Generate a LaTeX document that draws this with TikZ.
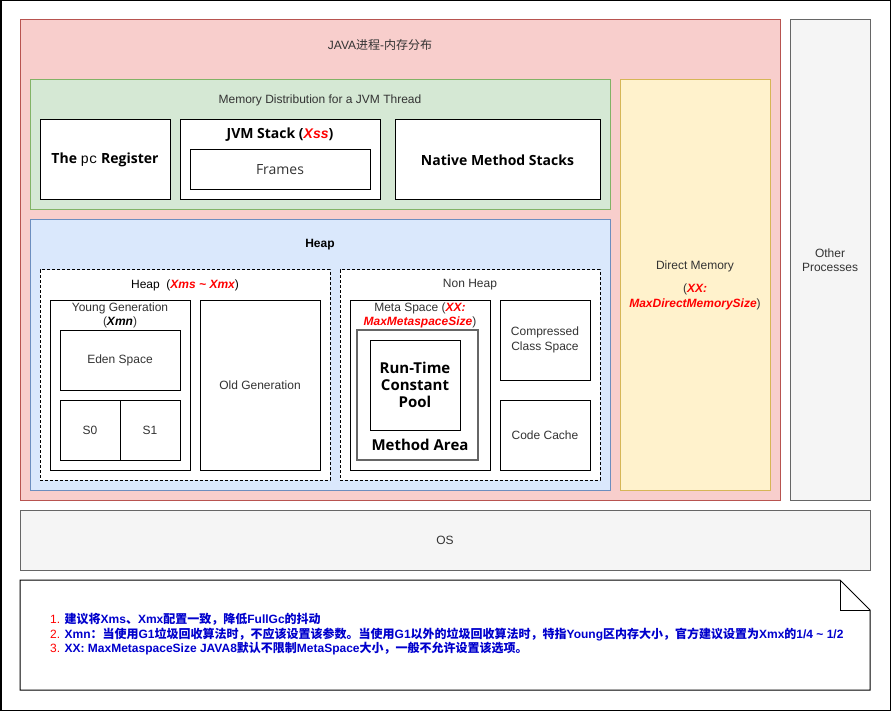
\documentclass[tikz,border=0pt]{standalone}
\usepackage{fontspec}
\setmainfont{Liberation Sans}
\setmonofont{Liberation Mono}
\newfontfamily\cjk{Noto Sans CJK SC}
\newfontfamily\segoe{Open Sans}
\usetikzlibrary{positioning}

\definecolor{procFill}{HTML}{F8CECC}
\definecolor{procLine}{HTML}{B85450}
\definecolor{thrFill}{HTML}{D5E8D4}
\definecolor{thrLine}{HTML}{82B366}
\definecolor{heapFill}{HTML}{DAE8FC}
\definecolor{heapLine}{HTML}{6C8EBF}
\definecolor{directFill}{HTML}{FFF2CC}
\definecolor{directLine}{HTML}{D6B656}
\definecolor{osFill}{HTML}{F5F5F5}
\definecolor{osLine}{HTML}{666666}
\definecolor{labelGrey}{HTML}{333333}
\definecolor{keyRed}{HTML}{FF0000}
\definecolor{noteBlue}{HTML}{0000CC}

\newcommand{\zh}[1]{{\cjk #1}}
\newcommand{\keyit}[1]{\textcolor{keyRed}{\bfseries\itshape #1}}

\begin{document}
\begin{tikzpicture}[x=1pt,y=-1pt,
  area/.style={draw, rectangle, inner sep=0pt, outer sep=0pt, line width=1pt},
  cell/.style={area, draw=black, fill=white},
  dotbox/.style={area, draw=black, fill=white, dash pattern=on 3pt off 2pt},
  lbl/.style={inner sep=0pt, align=center, text=labelGrey, font=\fontsize{12}{14.5}\selectfont},
  heavy/.style={inner sep=0pt, align=center, text=black, font=\segoe\bfseries\fontsize{14}{17}\selectfont},
  sz/.style 2 args={minimum width=#1, minimum height=#2}]
  \useasboundingbox (0,0) rectangle (891,711);
  \draw[line width=1.5pt] (0.75,0.75) rectangle (890.25,710.25);

  % java process
  \node[area, sz={760}{480}, fill=procFill, draw=procLine] (proc) at (400,260) {};
  \node[lbl] (procT) at (380,45) {JAVA\zh{进程}-\zh{内存分布}};

  % thread
  \node[area, sz={580}{130}, fill=thrFill, draw=thrLine] (thread) at (320,145) {};
  \node[lbl] (threadT) at (320,100) {Memory Distribution for a JVM Thread};
  \node[cell, sz={130}{80}, heavy] (pcreg) at (105,160) {The {\mdseries\ttfamily pc} Register};
  \node[cell, sz={200}{80}] (stack) at (280,160) {};
  \node[heavy] (stackT) at (280,135) {JVM Stack ({\fontspec{Liberation Sans}\keyit{Xss}})};
  \node[cell, sz={180}{40}, heavy, font=\segoe\fontsize{14}{17}\selectfont, text=labelGrey] (frames) at (280,170) {Frames};
  \node[cell, sz={205}{80}, heavy] (native) at (497.5,160) {Native Method Stacks};

  % heap
  \node[area, sz={580}{270}, fill=heapFill, draw=heapLine] (heap) at (320,355) {};
  \node[lbl, font=\bfseries\fontsize{12}{14.5}\selectfont, text=black] (heapT) at (320,245) {Heap};

  \node[dotbox, sz={290}{210}] (xheap) at (185,375) {};
  \node[lbl, text=black] (xheapT) at (185,285) {Heap\ \ (\keyit{Xms \textasciitilde{} Xmx})};
  \node[cell, sz={140}{170}] (young) at (120,385) {};
  \node[lbl] (youngT) at (120,315.5) {Young Generation\\(\textcolor{black}{\bfseries\itshape Xmn})};
  \node[cell, sz={120}{60}, lbl] (eden) at (120,360) {Eden Space};
  \node[cell, sz={60}{60}, lbl] (s0) at (90,430) {S0};
  \node[cell, sz={60}{60}, lbl, right=0pt of s0] (s1) {S1};
  \node[cell, sz={120}{170}, lbl] (old) at (260,385) {Old Generation};

  \node[dotbox, sz={260}{210}] (nonheap) at (470,375) {};
  \node[lbl] (nonheapT) at (470,285) {Non Heap};
  \node[cell, sz={140}{170}] (meta) at (420,385) {};
  \node[lbl] (metaT) at (420,315.5) {Meta Space (\keyit{XX:}\\\keyit{MaxMetaspaceSize})};
  \node[area, sz={121}{130}, draw=osLine, line width=2pt, fill=white] (method) at (417.5,395) {};
  \node[cell, sz={90}{90}, heavy, font=\segoe\bfseries\fontsize{15}{17}\selectfont] (pool) at (415,385) {Run-Time\\Constant\\Pool};
  \node[heavy, font=\segoe\bfseries\fontsize{15}{17}\selectfont] (methodT) at (420,445) {Method Area};
  \node[cell, sz={90}{80}, lbl] (ccs) at (545,340) {Compressed\\Class Space};
  \node[cell, sz={90}{70}, lbl] (codec) at (545,435) {Code Cache};

  % direct memory
  \node[area, sz={150}{410}, fill=directFill, draw=directLine, lbl] (direct) at (695,285) {Direct Memory\\[9pt](\keyit{XX:}\\\keyit{MaxDirectMemorySize})};

  % other processes, os
  \node[area, sz={80}{480}, fill=osFill, draw=osLine, lbl] (other) at (830,260) {Other\\Processes};
  \node[area, sz={850}{60}, fill=osFill, draw=osLine, lbl] (os) at (445,540) {OS};

  % note
  \draw[line width=1pt] (20,580) -- (840,580) -- (870,610) -- (870,690) -- (20,690) -- cycle;
  \draw[line width=1pt] (840,580) -- (840,610) -- (870,610);
  \node[inner sep=0pt, anchor=west, align=left, text=noteBlue,
        font=\bfseries\fontsize{12}{14.5}\selectfont] (note) at (50,634.5) {%
    \textcolor{keyRed}{\mdseries 1.} \zh{建议将}Xms\zh{、}Xmx\zh{配置一致，降低}FullGc\zh{的抖动}\\
    \textcolor{keyRed}{\mdseries 2.} Xmn\zh{：当使用}G1\zh{垃圾回收算法时，不应该设置该参数。当使用}G1\zh{以外的垃圾回收算法时，特指}Young\zh{区内存大小，官方建议设置为}Xmx\zh{的}1/4 \textasciitilde{} 1/2\\
    \textcolor{keyRed}{\mdseries 3.} XX: MaxMetaspaceSize JAVA8\zh{默认不限制}MetaSpace\zh{大小，一般不允许设置该选项。}};
\end{tikzpicture}
\end{document}
